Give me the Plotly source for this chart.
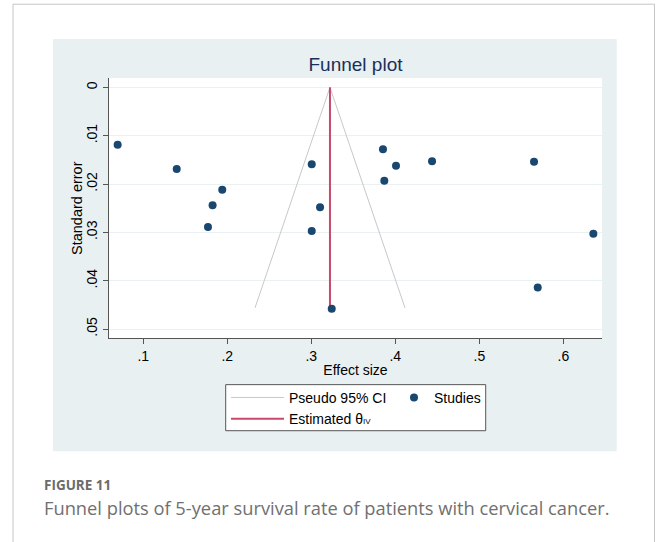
import plotly.graph_objects as go

# ---------------- data ----------------
study_effect = [0.0695, 0.1398, 0.1940, 0.1825, 0.1770, 0.3005, 0.3104, 0.3005,
                0.3243, 0.3853, 0.4008, 0.3869, 0.4437, 0.5651, 0.6357, 0.5695]
study_se = [0.0119, 0.0169, 0.0212, 0.0244, 0.0289, 0.0159, 0.0248, 0.0297,
            0.0458, 0.0128, 0.0162, 0.0193, 0.0153, 0.0154, 0.0303, 0.0414]

theta_iv = 0.3222
ci_effect = [0.2330, 0.3222, 0.4115]
ci_se = [0.0456, 0.0, 0.0456]
theta_se = [0.0, 0.0456]

x_tickvals = [0.1, 0.2, 0.3, 0.4, 0.5, 0.6]
x_ticktext = [".1", ".2", ".3", ".4", ".5", ".6"]
y_tickvals = [0, 0.01, 0.02, 0.03, 0.04, 0.05]
y_ticktext = ["0", ".01", ".02", ".03", ".04", ".05"]

# ---------------- geometry helpers ----------------
W_FIG, H_FIG = 658, 542
L, R, T, B = 109, 602, 78, 337.7
PW, PH = R - L, B - T


def px2x(px):
    return (px - L) / PW


def py2y(py):
    return (B - py) / PH


FONT = "Liberation Sans, Arial, sans-serif"
NAVY = "#1a476f"
RED = "#c9486a"
GRAY_CI = "#c8c8c8"
AXIS = "#555555"
PANEL = "#e9f0f2"
GRID = "#eaf1f3"

fig = go.Figure()

fig.add_trace(go.Scatter(
    x=ci_effect, y=ci_se, mode="lines", name="Pseudo 95% CI",
    line=dict(color=GRAY_CI, width=1), legend="legend", hoverinfo="skip"))
fig.add_trace(go.Scatter(
    x=[theta_iv, theta_iv], y=theta_se, mode="lines",
    name="Estimated θ<span style='font-size:8px'>IV</span>",
    line=dict(color=RED, width=2), legend="legend"))
fig.add_trace(go.Scatter(
    x=study_effect, y=study_se, mode="markers", name="Studies",
    marker=dict(color=NAVY, size=8), legend="legend2"))

shapes = [
    # outer page frame
    dict(type="rect", xref="paper", yref="paper",
         x0=px2x(13), x1=px2x(654.5), y0=py2y(560), y1=py2y(4.3),
         line=dict(color="#c6c6c6", width=1), fillcolor="rgba(0,0,0,0)", layer="below"),
    # graph panel
    dict(type="rect", xref="paper", yref="paper",
         x0=px2x(53), x1=px2x(616.7), y0=py2y(450.7), y1=py2y(39),
         line=dict(width=0), fillcolor=PANEL, layer="below"),
    # plot region
    dict(type="rect", xref="paper", yref="paper",
         x0=0, x1=1, y0=0, y1=1,
         line=dict(width=0), fillcolor="white", layer="below"),
    # legend box
    dict(type="rect", xref="paper", yref="paper",
         x0=px2x(225.7), x1=px2x(485.7), y0=py2y(430.3), y1=py2y(384.3),
         line=dict(color=AXIS, width=1), fillcolor="white", layer="above"),
]

annotations = [
    dict(text="<b>FIGURE 11</b>", xref="paper", yref="paper",
         x=px2x(42), y=py2y(485), xanchor="left", yanchor="middle", showarrow=False,
         font=dict(family="Open Sans, sans-serif", size=13.5, color="#6b6b6b")),
    dict(text="Funnel plots of 5-year survival rate of patients with cervical cancer.",
         xref="paper", yref="paper", x=px2x(42), y=py2y(507.5),
         xanchor="left", yanchor="middle", showarrow=False,
         font=dict(family="Open Sans, sans-serif", size=18.3, color="#707070")),
    # y-axis title
    dict(text="Standard error", xref="paper", yref="paper",
         x=px2x(77), y=0.5, xanchor="center", yanchor="middle", textangle=-90,
         showarrow=False, font=dict(family=FONT, size=14.5, color="#000")),
]

fig.update_layout(
    width=W_FIG, height=H_FIG, autosize=False,
    margin=dict(l=L, r=W_FIG - R, t=T, b=H_FIG - B, pad=0),
    paper_bgcolor="white", plot_bgcolor="white",
    font=dict(family=FONT, size=14, color="#000000"),
    title=dict(text="Funnel plot", x=0.5, xref="paper", xanchor="center",
               y=1 - 64 / H_FIG, yref="container", yanchor="middle",
               font=dict(family=FONT, size=19, color="#1a2f5a")),
    xaxis=dict(range=[0.0592, 0.646], tickvals=x_tickvals, ticktext=x_ticktext,
               showgrid=False, zeroline=False, showline=True, linecolor=AXIS,
               linewidth=1, ticks="outside", ticklen=5, tickcolor=AXIS,
               tickfont=dict(family=FONT, size=14, color="#000"),
               title=dict(text="Effect size", standoff=2,
                          font=dict(family=FONT, size=14, color="#000"))),
    yaxis=dict(range=[0.05184, -0.00193], tickvals=y_tickvals, ticktext=y_ticktext,
               showgrid=True, gridcolor=GRID, gridwidth=1.2, zeroline=False,
               showline=True, linecolor=AXIS, linewidth=1, ticks="outside",
               ticklen=5, tickcolor=AXIS, tickangle=-90,
               tickfont=dict(family=FONT, size=14, color="#000")),
    legend=dict(x=px2x(226), y=py2y(381.5), xanchor="left", yanchor="top",
                orientation="v", bgcolor="rgba(0,0,0,0)", borderwidth=0,
                itemwidth=53, tracegroupgap=0,
                font=dict(family=FONT, size=14, color="#000")),
    legend2=dict(x=px2x(394), y=py2y(381.5), xanchor="left", yanchor="top",
                 orientation="v", bgcolor="rgba(0,0,0,0)", borderwidth=0,
                 itemwidth=30,
                 font=dict(family=FONT, size=14, color="#000")),
    shapes=shapes,
    annotations=annotations,
)

fig.write_html("out.html")
